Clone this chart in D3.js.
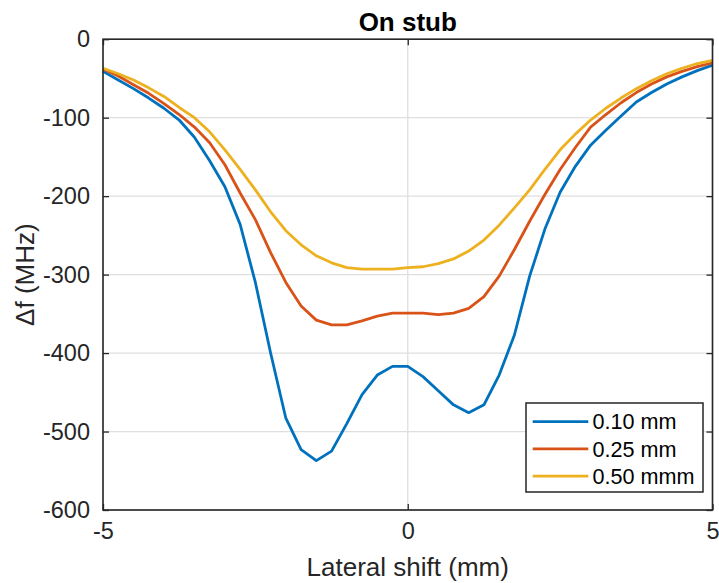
<!DOCTYPE html>
<html><head><meta charset="utf-8">
<script src="https://cdn.jsdelivr.net/npm/d3@7"></script>
<style>body{margin:0;background:#fff}svg{display:block;font-family:"Liberation Sans",Arial,sans-serif}</style>
</head><body><svg id="c" width="719" height="583"></svg>
<script>
const xs = [-5,-4.75,-4.5,-4.25,-4,-3.75,-3.5,-3.25,-3,-2.75,-2.5,-2.25,-2,-1.75,-1.5,-1.25,-1,-0.75,-0.5,-0.25,0,0.25,0.5,0.75,1,1.25,1.5,1.75,2,2.25,2.5,2.75,3,3.25,3.5,3.75,4,4.25,4.5,4.75,5];
const s010 = [-41,-52,-63,-75,-88,-103,-125,-155,-188,-236,-310,-400,-483,-523,-537,-525,-490,-453,-428,-417,-417,-430,-448,-466,-476,-466,-428,-377,-302,-242,-195,-162,-135,-116,-98,-80,-68,-57,-48,-40,-33];
const s025 = [-38,-47,-58,-69,-82,-96,-112,-132,-160,-196,-230,-272,-310,-340,-358,-364,-364,-359,-353,-349,-349,-349,-351,-349,-343,-328,-302,-268,-232,-198,-166,-138,-112,-96,-81,-68,-57,-48,-41,-35,-30];
const s050 = [-37,-44,-52,-62,-73,-87,-100,-118,-141,-166,-192,-220,-244,-262,-276,-285,-291,-293,-293,-293,-291,-290,-286,-280,-270,-256,-237,-215,-192,-166,-141,-121,-103,-88,-75,-63,-53,-44,-37,-31,-27];
const seriesNames = ["0.10 mm","0.25 mm","0.50 mmm"];
const colors = ["#0072BD","#D95319","#EDB120"];
const xTicks = [-5,0,5];
const yTicks = [0,-100,-200,-300,-400,-500,-600];
const title = "On stub", xLabel = "Lateral shift (mm)", yLabel = "\u0394f (MHz)";

const svg = d3.select("#c");
const L=103, R=712.5, T=39.2, B=510;
const x = d3.scaleLinear().domain([-5,5]).range([L,R]);
const y = d3.scaleLinear().domain([-600,0]).range([B,T]);
const axc = "#262626";

// grid
const g = svg.append("g");
g.selectAll(".gy").data(yTicks).join("line").attr("x1",L).attr("x2",R)
 .attr("y1",d=>y(d)).attr("y2",d=>y(d)).attr("stroke","#dfdfdf").attr("stroke-width",1.3);
g.selectAll(".gx").data(xTicks).join("line").attr("y1",T).attr("y2",B)
 .attr("x1",d=>x(d)).attr("x2",d=>x(d)).attr("stroke","#dfdfdf").attr("stroke-width",1.3);

// lines
const line = d3.line().x((d,i)=>x(xs[i])).y(d=>y(d));
[s010,s025,s050].forEach((s,i)=>{
  svg.append("path").datum(s).attr("d",line).attr("fill","none")
   .attr("stroke",colors[i]).attr("stroke-width",2.8).attr("stroke-linejoin","round");
});

// axes
const tl = 6;
const ax = svg.append("g").attr("transform",`translate(0,${B})`).call(d3.axisBottom(x).tickValues(xTicks).tickSize(-tl).tickPadding(12).tickFormat(d3.format("d")));
const axT = svg.append("g").attr("transform",`translate(0,${T})`).call(d3.axisTop(x).tickValues(xTicks).tickSize(-tl).tickFormat(""));
const ay = svg.append("g").attr("transform",`translate(${L},0)`).call(d3.axisLeft(y).tickValues(yTicks).tickSize(-tl).tickPadding(13).tickFormat(d3.format("d")));
const ayR = svg.append("g").attr("transform",`translate(${R},0)`).call(d3.axisRight(y).tickValues(yTicks).tickSize(-tl).tickFormat(""));
[ax,axT,ay,ayR].forEach(a=>{
  a.selectAll(".domain").remove();
  a.selectAll("line").attr("stroke",axc).attr("stroke-width",1.3);
  a.selectAll("text").attr("fill",axc).style("font-size","23.5px").style("font-family","Liberation Sans, Arial, sans-serif");
});
ay.selectAll("text").text(d=>d===0?"0":"-"+Math.abs(d));
ax.selectAll("text").text(d=>d<0?"-"+Math.abs(d):d);
svg.append("rect").attr("x",L).attr("y",T).attr("width",R-L).attr("height",B-T)
 .attr("fill","none").attr("stroke",axc).attr("stroke-width",1.6);

// labels
svg.append("text").attr("x",(L+R)/2).attr("y",31).attr("text-anchor","middle")
 .style("font-size","26px").style("font-weight","bold").attr("fill","#000").text(title);
svg.append("text").attr("x",(L+R)/2).attr("y",576).attr("text-anchor","middle")
 .style("font-size","26px").attr("fill",axc).text(xLabel);
svg.append("text").attr("transform",`translate(34,${(T+B)/2}) rotate(-90)`).attr("text-anchor","middle")
 .style("font-size","26px").attr("fill",axc).text(yLabel);

// legend
const lg = svg.append("g");
lg.append("rect").attr("x",526).attr("y",403).attr("width",177).attr("height",89)
 .attr("fill","#fff").attr("stroke",axc).attr("stroke-width",1.5);
seriesNames.forEach((n,i)=>{
  const cy = 421.7 + i*27.2;
  lg.append("line").attr("x1",532.7).attr("x2",588.3).attr("y1",cy).attr("y2",cy)
   .attr("stroke",colors[i]).attr("stroke-width",2.8);
  lg.append("text").attr("x",592.5).attr("y",cy).attr("dy","0.36em")
   .style("font-size","21.6px").attr("fill","#000").text(n);
});
</script></body></html>
